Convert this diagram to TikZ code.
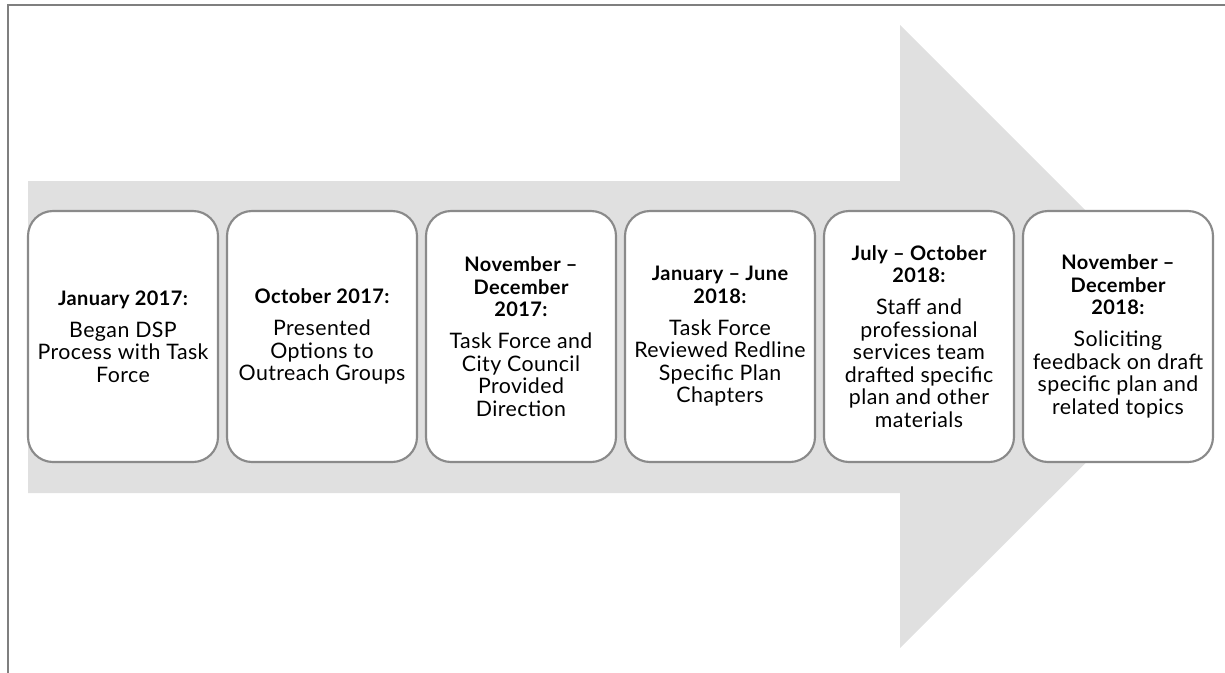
\documentclass[tikz,border=0pt]{standalone}
\usepackage{fontspec}
\setmainfont{Lato}
\newfontfamily\bodyfont[LetterSpace=2]{Lato}
\definecolor{arrowgray}{HTML}{E0E0E0}
\definecolor{boxgray}{HTML}{8A8A8A}
\definecolor{framegray}{HTML}{7F7F7F}
\newcommand{\hd}[1]{{\fontsize{15}{16.9}\selectfont\bfseries #1}}
\tikzset{
  stepbox/.style={draw=boxgray, line width=1.6pt, fill=white,
    rounded corners=18.75pt, minimum width=142.5pt, minimum height=188.25pt,
    inner sep=0pt},
  steptext/.style={align=center, font=\bodyfont\fontsize{16}{16.9}\selectfont, text=black, inner sep=0pt}
}
\begin{document}
\begin{tikzpicture}[x=0.75pt,y=-0.75pt]
\useasboundingbox (0,0) rectangle (1225,672);
\clip (0,0) rectangle (1225,672);
\draw[framegray, line width=1.5pt] (8,5) rectangle (1240,690);
\fill[arrowgray] (28,181) -- (900,181) -- (900,25) -- (1212,337) -- (900,648) -- (900,493) -- (28,493) -- cycle;
\node[stepbox] (b1) at (123,336.5) {};
\node[stepbox] (b2) at (322,336.5) {};
\node[stepbox] (b3) at (521,336.5) {};
\node[stepbox] (b4) at (720,336.5) {};
\node[stepbox] (b5) at (919,336.5) {};
\node[stepbox] (b6) at (1118,336.5) {};
\node[steptext] (t1) at (b1.center) {\hd{January 2017:}\\[7pt]Began DSP\\Process with Task\\Force};
\node[steptext] (t2) at (b2.center) {\hd{October 2017:}\\[7pt]Presented\\Options to\\Outreach Groups};
\node[steptext] (t3) at (b3.center) {\hd{November –}\\\hd{December}\\\hd{2017:}\\[7pt]Task Force and\\City Council\\Provided\\Direction};
\node[steptext] (t4) at (b4.center) {\hd{January – June}\\\hd{2018:}\\[7pt]Task Force\\Reviewed Redline\\Specific Plan\\Chapters};
\node[steptext] (t5) at (b5.center) {\hd{July – October}\\\hd{2018:}\\[7pt]Staff and\\professional\\services team\\drafted specific\\plan and other\\materials};
\node[steptext] (t6) at (b6.center) {\hd{November –}\\\hd{December}\\\hd{2018:}\\[7pt]Soliciting\\feedback on draft\\specific plan and\\related topics};
\end{tikzpicture}
\end{document}
